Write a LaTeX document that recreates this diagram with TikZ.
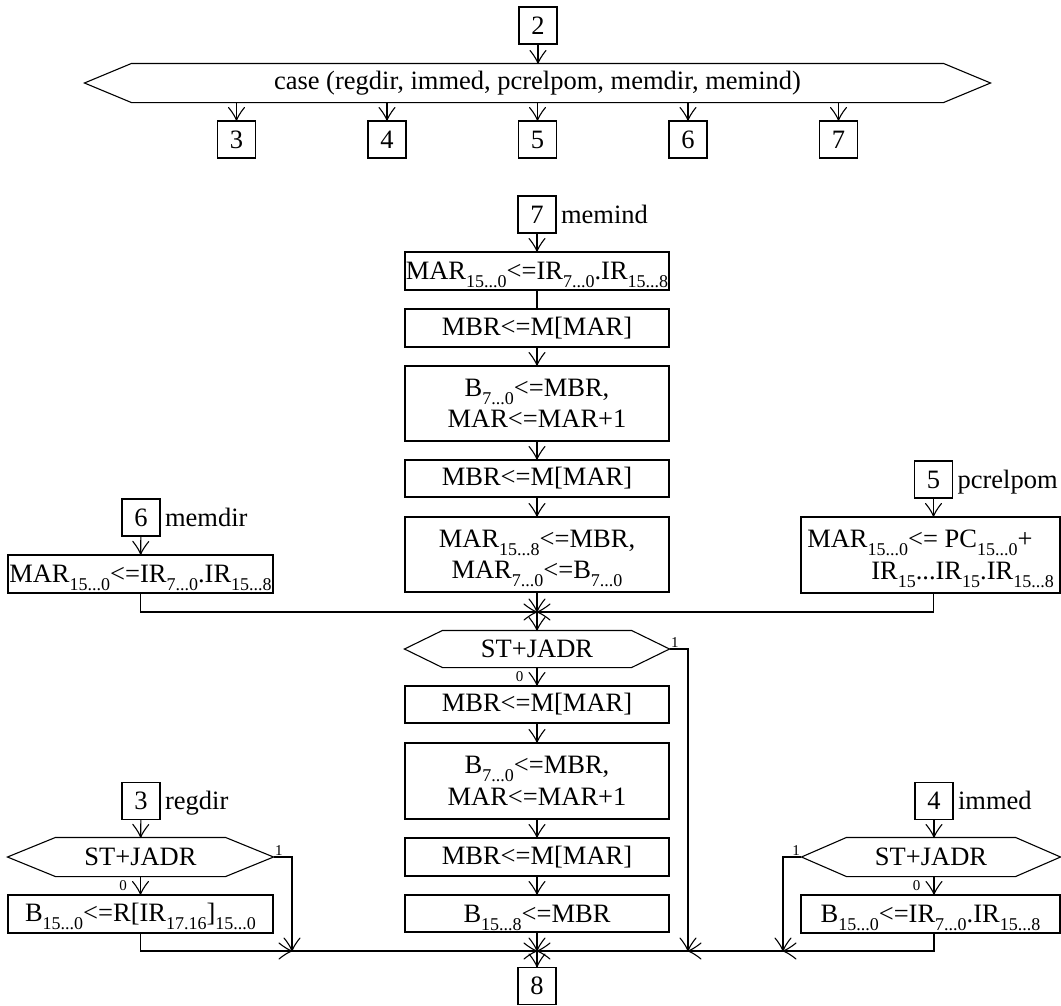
\documentclass[tikz,border=0pt]{standalone}
\usepackage{fontspec}
\setmainfont{Liberation Serif}
\usetikzlibrary{arrows.meta,calc}
% open "Y" arrow head: two barbs that flare out from the tip
\pgfdeclarearrow{
  name=Ybarb,
  parameters={\the\pgfarrowlength,\the\pgfarrowwidth},
  setup code={
    \pgfarrowssettipend{0pt}
    \pgfarrowssetlineend{0pt}
    \pgfarrowshullpoint{0pt}{0pt}
    \pgfarrowsupperhullpoint{-\pgfarrowlength}{.5\pgfarrowwidth}
    \pgfarrowssavethe\pgfarrowlength
    \pgfarrowssavethe\pgfarrowwidth
  },
  drawing code={
    \pgfsetdash{}{0pt}
    \pgfsetroundcap
    \pgfsetroundjoin
    \pgfpathmoveto{\pgfqpoint{-\pgfarrowlength}{.5\pgfarrowwidth}}
    \pgfpathcurveto{\pgfqpoint{-.55\pgfarrowlength}{.2\pgfarrowwidth}}{\pgfqpoint{-.2\pgfarrowlength}{.05\pgfarrowwidth}}{\pgfqpoint{0pt}{0pt}}
    \pgfpathcurveto{\pgfqpoint{-.2\pgfarrowlength}{-.05\pgfarrowwidth}}{\pgfqpoint{-.55\pgfarrowlength}{-.2\pgfarrowwidth}}{\pgfqpoint{-\pgfarrowlength}{-.5\pgfarrowwidth}}
    \pgfusepathqstroke
  },
  defaults={length=13pt,width=16pt}
}
% lowered, smaller index text (bit ranges)
\newcommand\lo[1]{\raisebox{-0.3em}[\height][0pt]{\fontsize{18}{18}\selectfont #1}}
% six-sided outline around a named node: #2 = length of the pointed ends
\newcommand\hexoutline[2]{\draw (#1.west) -- ($(#1.north west)+(#2,0)$) -- ($(#1.north east)+(-#2,0)$) -- (#1.east) -- ($(#1.south east)+(-#2,0)$) -- ($(#1.south west)+(#2,0)$) -- cycle;}
\begin{document}
\begin{tikzpicture}[x=1pt,y=-1pt,line width=1.1pt,
  every node/.style={font=\fontsize{26.5}{31.5}\selectfont,inner sep=0pt},
  numbox/.style={draw,minimum width=38pt,minimum height=37pt},
  opbox/.style={draw,align=center,minimum width=264pt,minimum height=38pt},
  tag/.style={anchor=base west},
  bit/.style={font=\fontsize{15}{15}\selectfont,inner sep=1pt},
  flow/.style={-{Ybarb[length=13pt,width=16pt]}}]
\useasboundingbox (0,0) rectangle (1061,1005);

% ---- dispatch on addressing mode ----
\node[numbox] (n2) at (538,25.5) {2};
\node[minimum width=905pt,minimum height=38pt] (cs) at (537.5,83) {case (regdir, immed, pcrelpom, memdir, memind)};
\hexoutline{cs}{47}
\draw[flow] (n2) -- (n2 |- cs.north);
\node[numbox] (t3) at (236.5,139.5) {3};
\node[numbox] (t4) at (387,139.5) {4};
\node[numbox] (t5) at (537.5,139.5) {5};
\node[numbox] (t6) at (688,139.5) {6};
\node[numbox] (t7) at (838.5,139.5) {7};
\foreach \k in {3,...,7} \draw[flow] (t\k |- cs.south) -- (t\k);

% ---- memind ----
\node[numbox] (a7) at (537,214.5) {7};
\node[tag] (l7) at ($(a7.base east)+(4,0)$) {memind};
\node[opbox] (m1) at (537,271) {MAR\lo{15...0}<=IR\lo{7...0}.IR\lo{15...8}};
\node[opbox] (m2) at (537,328) {MBR<=M[MAR]};
\node[opbox,minimum height=75pt] (m3) at (537,403.5) {B\lo{7...0}<=MBR,\\MAR<=MAR+1};
\node[opbox,minimum height=37pt] (m4) at (537,478.5) {MBR<=M[MAR]};
\node[opbox,minimum height=75pt] (m5) at (537,554.5) {MAR\lo{15...8}<=MBR,\\MAR\lo{7...0}<=B\lo{7...0}};
\draw[flow] (a7) -- (m1);
\draw (m1) -- (m2);
\draw[flow] (m2) -- (m3);
\draw[flow] (m3) -- (m4);
\draw[flow] (m4) -- (m5);
\coordinate (j1) at (537,612);
\draw[flow] (m5) -- (j1);

% ---- memdir ----
\node[numbox] (a6) at (141,517.5) {6};
\node[tag] (l6) at ($(a6.base east)+(4,0)$) {memdir};
\node[opbox,minimum width=265pt] (d1) at (140.5,574) {MAR\lo{15...0}<=IR\lo{7...0}.IR\lo{15...8}};
\draw[flow] (a6) -- (d1);
\draw[flow] (d1) |- (j1);

% ---- pcrelpom ----
\node[numbox] (a5) at (933.5,479.5) {5};
\node[tag] (l5) at ($(a5.base east)+(4,0)$) {pcrelpom};
\node[opbox,minimum width=259pt,minimum height=76pt,align=left] (p1) at (930.5,555)
  {MAR\lo{15...0}<= PC\lo{15...0}+\\\hspace*{64pt}IR\lo{15}...IR\lo{15}.IR\lo{15...8}};
\draw[flow] (a5) -- (a5 |- p1.north);
\draw[flow] (a5 |- p1.south) |- (j1);

% ---- common fetch of the operand ----
\node[minimum width=264pt,minimum height=36pt] (h1) at (537,649) {ST+JADR};
\hexoutline{h1}{38}
\draw[flow] (j1) -- (h1);
\node[bit,anchor=south west] (h1one) at (h1.east) {1};
\node[bit,anchor=north east] (h1zero) at ($(h1.south)+(-12,2)$) {0};
\node[opbox,minimum height=37pt] (c1) at (537,704.5) {MBR<=M[MAR]};
\node[opbox,minimum height=76pt] (c2) at (537,781) {B\lo{7...0}<=MBR,\\MAR<=MAR+1};
\node[opbox] (c3) at (537,857) {MBR<=M[MAR]};
\node[opbox,minimum height=37pt] (c4) at (537,913.5) {B\lo{15...8}<=MBR};
\draw[flow] (h1) -- (c1);
\draw[flow] (c1) -- (c2);
\draw[flow] (c2) -- (c3);
\draw[flow] (c3) -- (c4);
\coordinate (j2) at (537,951);
\draw[flow] (c4) -- (j2);
\node[numbox] (a8) at (537,986) {8};
\draw[flow] (j2) -- (a8);

% ---- regdir ----
\node[numbox] (a3) at (141,801) {3};
\node[tag] (l3) at ($(a3.base east)+(4,0)$) {regdir};
\node[minimum width=265pt,minimum height=38pt] (r1) at (140.5,857) {ST+JADR};
\hexoutline{r1}{48}
\node[bit,anchor=south west] (r1one) at (r1.east) {1};
\node[bit,anchor=north east] (r1zero) at ($(r1.south)+(-12,2)$) {0};
\node[opbox,minimum width=265pt] (r2) at (140.5,914) {B\lo{15...0}<=R[IR\lo{17.16}]\lo{15...0}};
\coordinate (k3) at (292,951);
\draw[flow] (a3) -- (r1);
\draw[flow] (r1) -- (r2);
\draw[flow] (r1.east) -| (k3);
\draw[flow] (r2) |- (k3);
\draw[flow] (k3) -- (j2);

% ---- immed ----
\node[numbox] (a4) at (934,801) {4};
\node[tag] (l4) at ($(a4.base east)+(4,0)$) {immed};
\node[minimum width=258pt,minimum height=38pt] (i1) at (931,857) {ST+JADR};
\hexoutline{i1}{45}
\node[bit,anchor=south east] (i1one) at (i1.west) {1};
\node[bit,anchor=north east] (i1zero) at ($(a4 |- i1.south)+(-12,2)$) {0};
\node[opbox,minimum width=259pt] (i2) at (930.5,914) {B\lo{15...0}<=IR\lo{7...0}.IR\lo{15...8}};
\coordinate (k4) at (783,951);
\coordinate (k1) at (688,951);
\draw[flow] (a4) -- (a4 |- i1.north);
\draw[flow] (a4 |- i1.south) -- (a4 |- i2.north);
\draw[flow] (i1.west) -| (k4);
\draw[flow] (a4 |- i2.south) |- (k4);
\draw[flow] (k4) -- (k1);
\draw[flow] (h1.east) -| (k1);
\draw[flow] (k1) -- (j2);
\end{tikzpicture}
\end{document}
